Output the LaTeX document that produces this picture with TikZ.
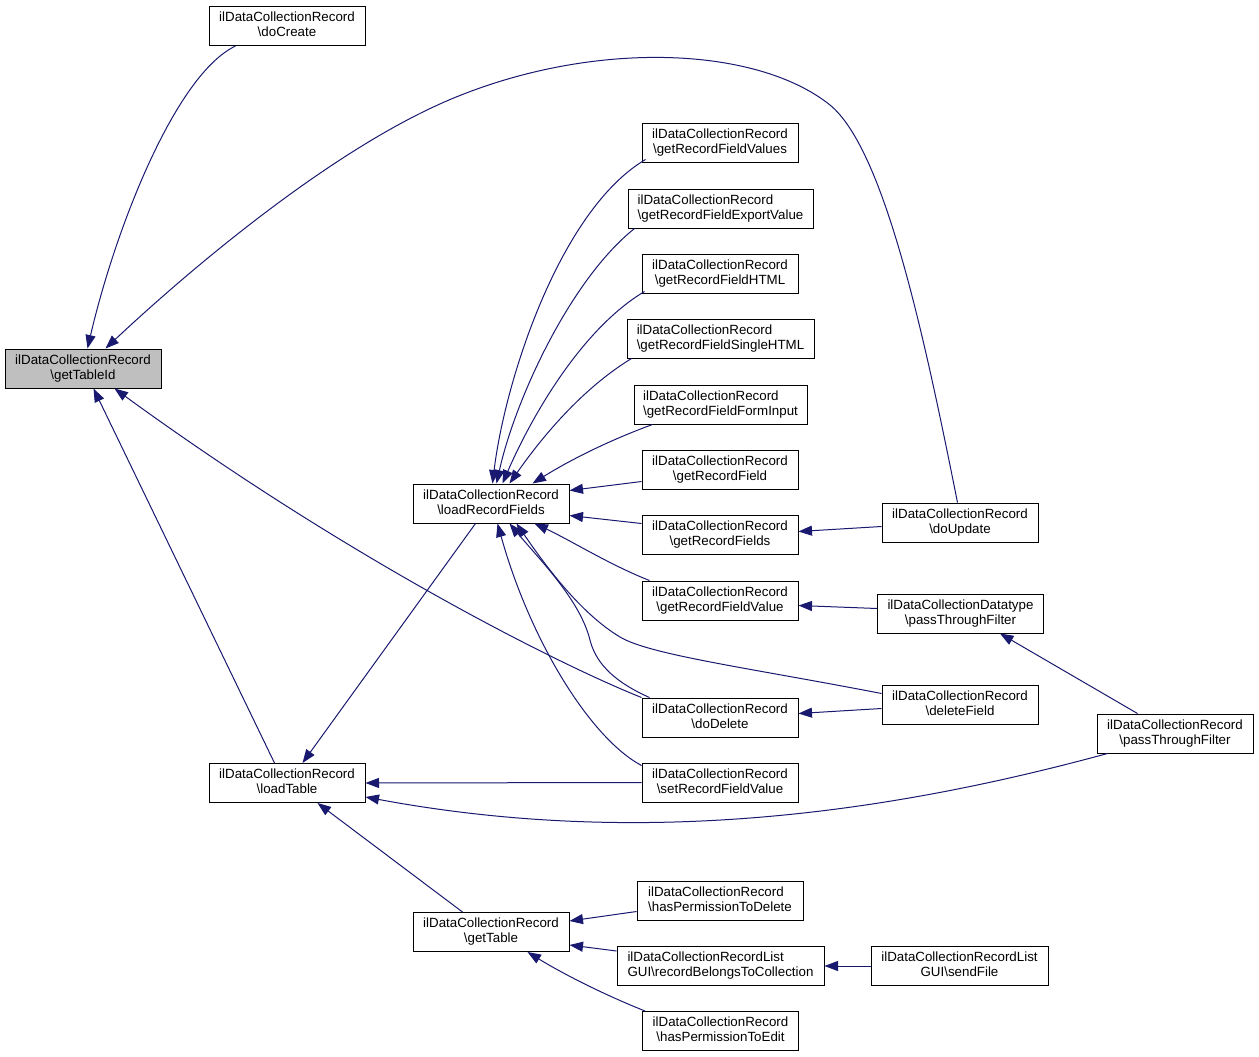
\documentclass[tikz,border=0pt]{standalone}
\usepackage{fontspec}
\setmainfont{Liberation Sans}
\usetikzlibrary{arrows.meta}
\definecolor{edgeblue}{HTML}{191970}
\definecolor{rootgray}{HTML}{BFBFBF}
\newcommand\lbl[2]{\begin{tabular}{@{}l@{}}#1\\\multicolumn{1}{@{}c@{}}{#2}\end{tabular}}
\begin{document}
\begin{tikzpicture}[x=1pt,y=-1pt,
  box/.style={draw=black, line width=1pt, fill=white, inner sep=0pt, minimum height=39pt,
    font=\fontsize{13.33}{15}\selectfont},
  edge/.style={draw=edgeblue, line width=1pt, -{Triangle[length=13.5pt,width=10pt]}}]
\useasboundingbox[fill=white] (0,0) rectangle (1259,1057);

\node[box, fill=rootgray, minimum width=156pt] (getTableId) at (83,368.5) {\lbl{ilDataCollectionRecord}{\textbackslash getTableId}};
\node[box, minimum width=156pt] (doCreate) at (287,26) {\lbl{ilDataCollectionRecord}{\textbackslash doCreate}};
\node[box, minimum width=156pt] (loadRecordFields) at (491,503.5) {\lbl{ilDataCollectionRecord}{\textbackslash loadRecordFields}};
\node[box, minimum width=156pt] (loadTable) at (287,783) {\lbl{ilDataCollectionRecord}{\textbackslash loadTable}};
\node[box, minimum width=156pt] (getTable) at (491,932) {\lbl{ilDataCollectionRecord}{\textbackslash getTable}};
\node[box, minimum width=156pt] (gRFValues) at (720,142.5) {\lbl{ilDataCollectionRecord}{\textbackslash getRecordFieldValues}};
\node[box, minimum width=185pt] (gRFExport) at (720.5,208.5) {\lbl{ilDataCollectionRecord}{\textbackslash getRecordFieldExportValue}};
\node[box, minimum width=156pt] (gRFHTML) at (720,273.5) {\lbl{ilDataCollectionRecord}{\textbackslash getRecordFieldHTML}};
\node[box, minimum width=187pt] (gRFSingle) at (720.5,338.5) {\lbl{ilDataCollectionRecord}{\textbackslash getRecordFieldSingleHTML}};
\node[box, minimum width=173pt] (gRFForm) at (720.5,404.5) {\lbl{ilDataCollectionRecord}{\textbackslash getRecordFieldFormInput}};
\node[box, minimum width=156pt] (gRF) at (720,469.5) {\lbl{ilDataCollectionRecord}{\textbackslash getRecordField}};
\node[box, minimum width=156pt] (gRFs) at (720,534.5) {\lbl{ilDataCollectionRecord}{\textbackslash getRecordFields}};
\node[box, minimum width=156pt] (gRFValue) at (720,600.5) {\lbl{ilDataCollectionRecord}{\textbackslash getRecordFieldValue}};
\node[box, minimum width=156pt] (doDelete) at (720,717.5) {\lbl{ilDataCollectionRecord}{\textbackslash doDelete}};
\node[box, minimum width=156pt] (setRFV) at (720,782.5) {\lbl{ilDataCollectionRecord}{\textbackslash setRecordFieldValue}};
\node[box, minimum width=156pt] (doUpdate) at (960,522.5) {\lbl{ilDataCollectionRecord}{\textbackslash doUpdate}};
\node[box, minimum width=166pt] (ptfD) at (960.5,613.5) {\lbl{ilDataCollectionDatatype}{\textbackslash passThroughFilter}};
\node[box, minimum width=156pt] (deleteField) at (960,704.5) {\lbl{ilDataCollectionRecord}{\textbackslash deleteField}};
\node[box, minimum width=156pt] (ptfR) at (1175,733.5) {\lbl{ilDataCollectionRecord}{\textbackslash passThroughFilter}};
\node[box, minimum width=166pt] (hPD) at (720,900.5) {\lbl{ilDataCollectionRecord}{\textbackslash hasPermissionToDelete}};
\node[box, minimum width=207pt] (rB) at (720.5,966) {\lbl{ilDataCollectionRecordList}{GUI\textbackslash recordBelongsToCollection}};
\node[box, minimum width=156pt] (hPE) at (720.5,1031) {\lbl{ilDataCollectionRecord}{\textbackslash hasPermissionToEdit}};
\node[box, minimum width=177pt] (sendFile) at (959.5,966) {\lbl{ilDataCollectionRecordList}{GUI\textbackslash sendFile}};

% edges to getTableId
\draw[edge] ([xshift=27pt]doCreate.south west) .. controls (175,75) and (115,230) .. ([xshift=83pt]getTableId.north west);
\draw[edge] ([xshift=76pt]doUpdate.north west) .. controls (925,340) and (885,150) .. (830,105) .. controls (755,45) and (590,40) .. (449,100) .. controls (336,148) and (200,260) .. ([xshift=101pt]getTableId.north west);
\draw[edge] (doDelete.north west) .. controls (560,665) and (350,560) .. ([xshift=110pt]getTableId.south west);
\draw[edge] ([xshift=66pt]loadTable.north west) -- ([xshift=89pt]getTableId.south west);

% edges to loadTable
\draw[edge] ([xshift=63pt]loadRecordFields.south west) -- ([xshift=94pt]loadTable.north west);
\draw[edge] (setRFV.west) -- (loadTable.east);
\draw[edge] ([xshift=11pt]ptfR.south west) .. controls (900,810) and (650,850) .. ([yshift=-14pt]loadTable.east);
\draw[edge] ([xshift=50pt]getTable.north west) -- ([xshift=109pt]loadTable.south west);

% edges to loadRecordFields
\draw[edge] ([xshift=4pt,yshift=3pt]gRFValues.south west) .. controls (560,210) and (505,380) .. ([xshift=80pt]loadRecordFields.north west);
\draw[edge] ([xshift=7pt]gRFExport.south west) .. controls (570,280) and (515,400) .. ([xshift=84pt]loadRecordFields.north west);
\draw[edge] ([xshift=3pt,yshift=2pt]gRFHTML.south west) .. controls (580,330) and (530,420) .. ([xshift=90pt]loadRecordFields.north west);
\draw[edge] ([xshift=5pt]gRFSingle.south west) .. controls (580,390) and (540,440) .. ([xshift=97pt]loadRecordFields.north west);
\draw[edge] ([xshift=19pt]gRFForm.south west) .. controls (610,440) and (570,460) .. ([xshift=120pt]loadRecordFields.north west);
\draw[edge] ([yshift=8pt]gRF.south west) -- ([yshift=13pt]loadRecordFields.east);
\draw[edge] ([yshift=-9pt]gRFs.north west) -- ([yshift=-12pt]loadRecordFields.east);
\draw[edge] ([xshift=8pt]gRFValue.north west) .. controls (610,565) and (570,540) .. ([xshift=122pt]loadRecordFields.south west);
\draw[edge] ([yshift=-3pt]setRFV.north west) .. controls (590,738) and (530,640) .. ([xshift=85pt]loadRecordFields.south west);
\draw[edge] ([xshift=8pt]doDelete.north west) .. controls (610,680) and (595,660) .. (590,640) .. controls (580,600) and (540,560) .. ([xshift=97pt]loadRecordFields.south west);
\draw[edge] ([yshift=-9pt]deleteField.north west) .. controls (750,668) and (650,655) .. (620,637) .. controls (580,613) and (545,565) .. ([xshift=104pt]loadRecordFields.south west);

% right side
\draw[edge] ([yshift=-24pt]doUpdate.north west) -- ([yshift=3pt]gRFs.east);
\draw[edge] ([yshift=-15pt]ptfD.north west) -- ([yshift=-5pt]gRFValue.east);
\draw[edge] ([yshift=-24pt]deleteField.north west) -- ([yshift=4pt]doDelete.east);
\draw[edge] ([xshift=41pt]ptfR.north west) -- ([xshift=123pt]ptfD.south west);

% bottom
\draw[edge] ([yshift=-31pt]hPD.north west) -- ([yshift=-9pt]getTable.north east);
\draw[edge] ([yshift=-5pt]rB.north west) -- ([yshift=-33pt]getTable.north east);
\draw[edge] ([xshift=3pt]hPE.north west) .. controls (600,993) and (560,972) .. ([xshift=115pt]getTable.south west);
\draw[edge] (sendFile.west) -- (rB.east);
\end{tikzpicture}
\end{document}
